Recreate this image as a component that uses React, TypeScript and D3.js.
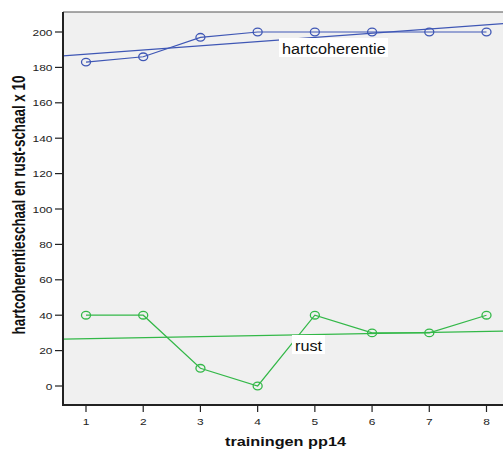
import React from "react";
import * as d3 from "d3";

const trainingen = [1, 2, 3, 4, 5, 6, 7, 8];
const hartcoherentie = [183, 186, 197, 200, 200, 200, 200, 200];
const rust = [40, 40, 10, 0, 40, 30, 30, 40];
const yTickValues = [0, 20, 40, 60, 80, 100, 120, 140, 160, 180, 200];

const BLUE = "#3f57b5";
const GREEN = "#33b848";

// least squares fit, like the SPSS "fit line total"
const fit = (xs: number[], ys: number[]) => {
  const mx = d3.mean(xs)!;
  const my = d3.mean(ys)!;
  const sxy = d3.sum(xs, (x, i) => (x - mx) * (ys[i] - my));
  const sxx = d3.sum(xs, (x) => (x - mx) ** 2);
  const b = sxy / sxx;
  return (x: number) => my + b * (x - mx);
};

// the original picture is stretched sideways, so text gets a scaleX
const SX = 1.3;

const App = () => {
  const W = 503;
  const H = 453;
  const plot = { left: 63, top: 12, right: 520, bottom: 405 };

  const x = d3.scaleLinear().domain([1, 8]).range([86, 486.5]);
  const y = d3.scaleLinear().domain([0, 200]).range([386, 32]);

  const x0 = x.invert(plot.left);
  const x1 = x.invert(plot.right);

  const line = d3
    .line<number>()
    .x((_, i) => x(trainingen[i]))
    .y((d) => y(d));

  const series = [
    { name: "hartcoherentie", values: hartcoherentie, color: BLUE, label: [279, 38, 109] },
    { name: "rust", values: rust, color: GREEN, label: [292, 335, 33] },
  ];

  return (
    <svg width={W} height={H} style={{ position: "absolute", left: 0, top: 0 }}
      fontFamily="'Liberation Sans', Arial, sans-serif">
      <rect x={0} y={0} width={W} height={H} fill="#fff" />
      <defs>
        <clipPath id="plot">
          <rect x={plot.left} y={plot.top} width={plot.right - plot.left} height={plot.bottom - plot.top} />
        </clipPath>
      </defs>
      <rect x={plot.left} y={plot.top} width={plot.right - plot.left} height={plot.bottom - plot.top} fill="#f0f0f0" />
      <line x1={plot.left} x2={W} y1={plot.top} y2={plot.top} stroke="#555" strokeWidth={1.2} />

      <g clipPath="url(#plot)">
        {series.map((s) => {
          const f = fit(trainingen, s.values);
          return (
            <g key={s.name}>
              <line x1={x(x0)} x2={x(x1)} y1={y(f(x0))} y2={y(f(x1))} stroke={s.color} strokeWidth={1.2} />
              <path d={line(s.values) ?? ""} fill="none" stroke={s.color} strokeWidth={1.2} />
              {s.values.map((v, i) => (
                <ellipse key={i} cx={x(trainingen[i])} cy={y(v)} rx={4.5} ry={3.8} fill="none" stroke={s.color} strokeWidth={1.3} />
              ))}
            </g>
          );
        })}
      </g>

      {series.map((s) => (
        <g key={s.name + "-label"}>
          <rect x={s.label[0]} y={s.label[1]} width={s.label[2]} height={19} fill="#fff" />
          <text transform={`translate(${s.label[0] + 3},${s.label[1] + 16}) scale(1.12,1)`} fontSize={14.5} fill="#111">{s.name}</text>
        </g>
      ))}

      {/* axes */}
      <line x1={plot.left} x2={plot.left} y1={plot.top} y2={plot.bottom + 1} stroke="#222" strokeWidth={2} />
      <line x1={plot.left - 1} x2={W} y1={plot.bottom} y2={plot.bottom} stroke="#222" strokeWidth={2} />

      {yTickValues.map((t) => (
        <g key={t} transform={`translate(0,${y(t)})`}>
          <line x1={55} x2={plot.left} stroke="#222" strokeWidth={1.2} />
          <text transform={`translate(52.5,3.5) scale(${SX},1)`} textAnchor="end" fontSize={9.2} fill="#222">{t}</text>
        </g>
      ))}
      {trainingen.map((t) => (
        <g key={t} transform={`translate(${x(t)},0)`}>
          <line y1={plot.bottom} y2={plot.bottom + 7} stroke="#222" strokeWidth={1.2} />
          <text transform={`translate(0,425) scale(${SX},1)`} textAnchor="middle" fontSize={9.2} fill="#222">{t}</text>
        </g>
      ))}

      <text transform={`translate(285.5,446) scale(1.25,1)`} textAnchor="middle" fontSize={13} fontWeight="bold" fill="#111">trainingen pp14</text>
      <text transform={`translate(25,205) scale(1.38,1) rotate(-90)`} textAnchor="middle"
        fontSize={13.4} fontWeight="bold" fill="#111">hartcoherentieschaal en rust-schaal x 10</text>
    </svg>
  );
};

export default App;
